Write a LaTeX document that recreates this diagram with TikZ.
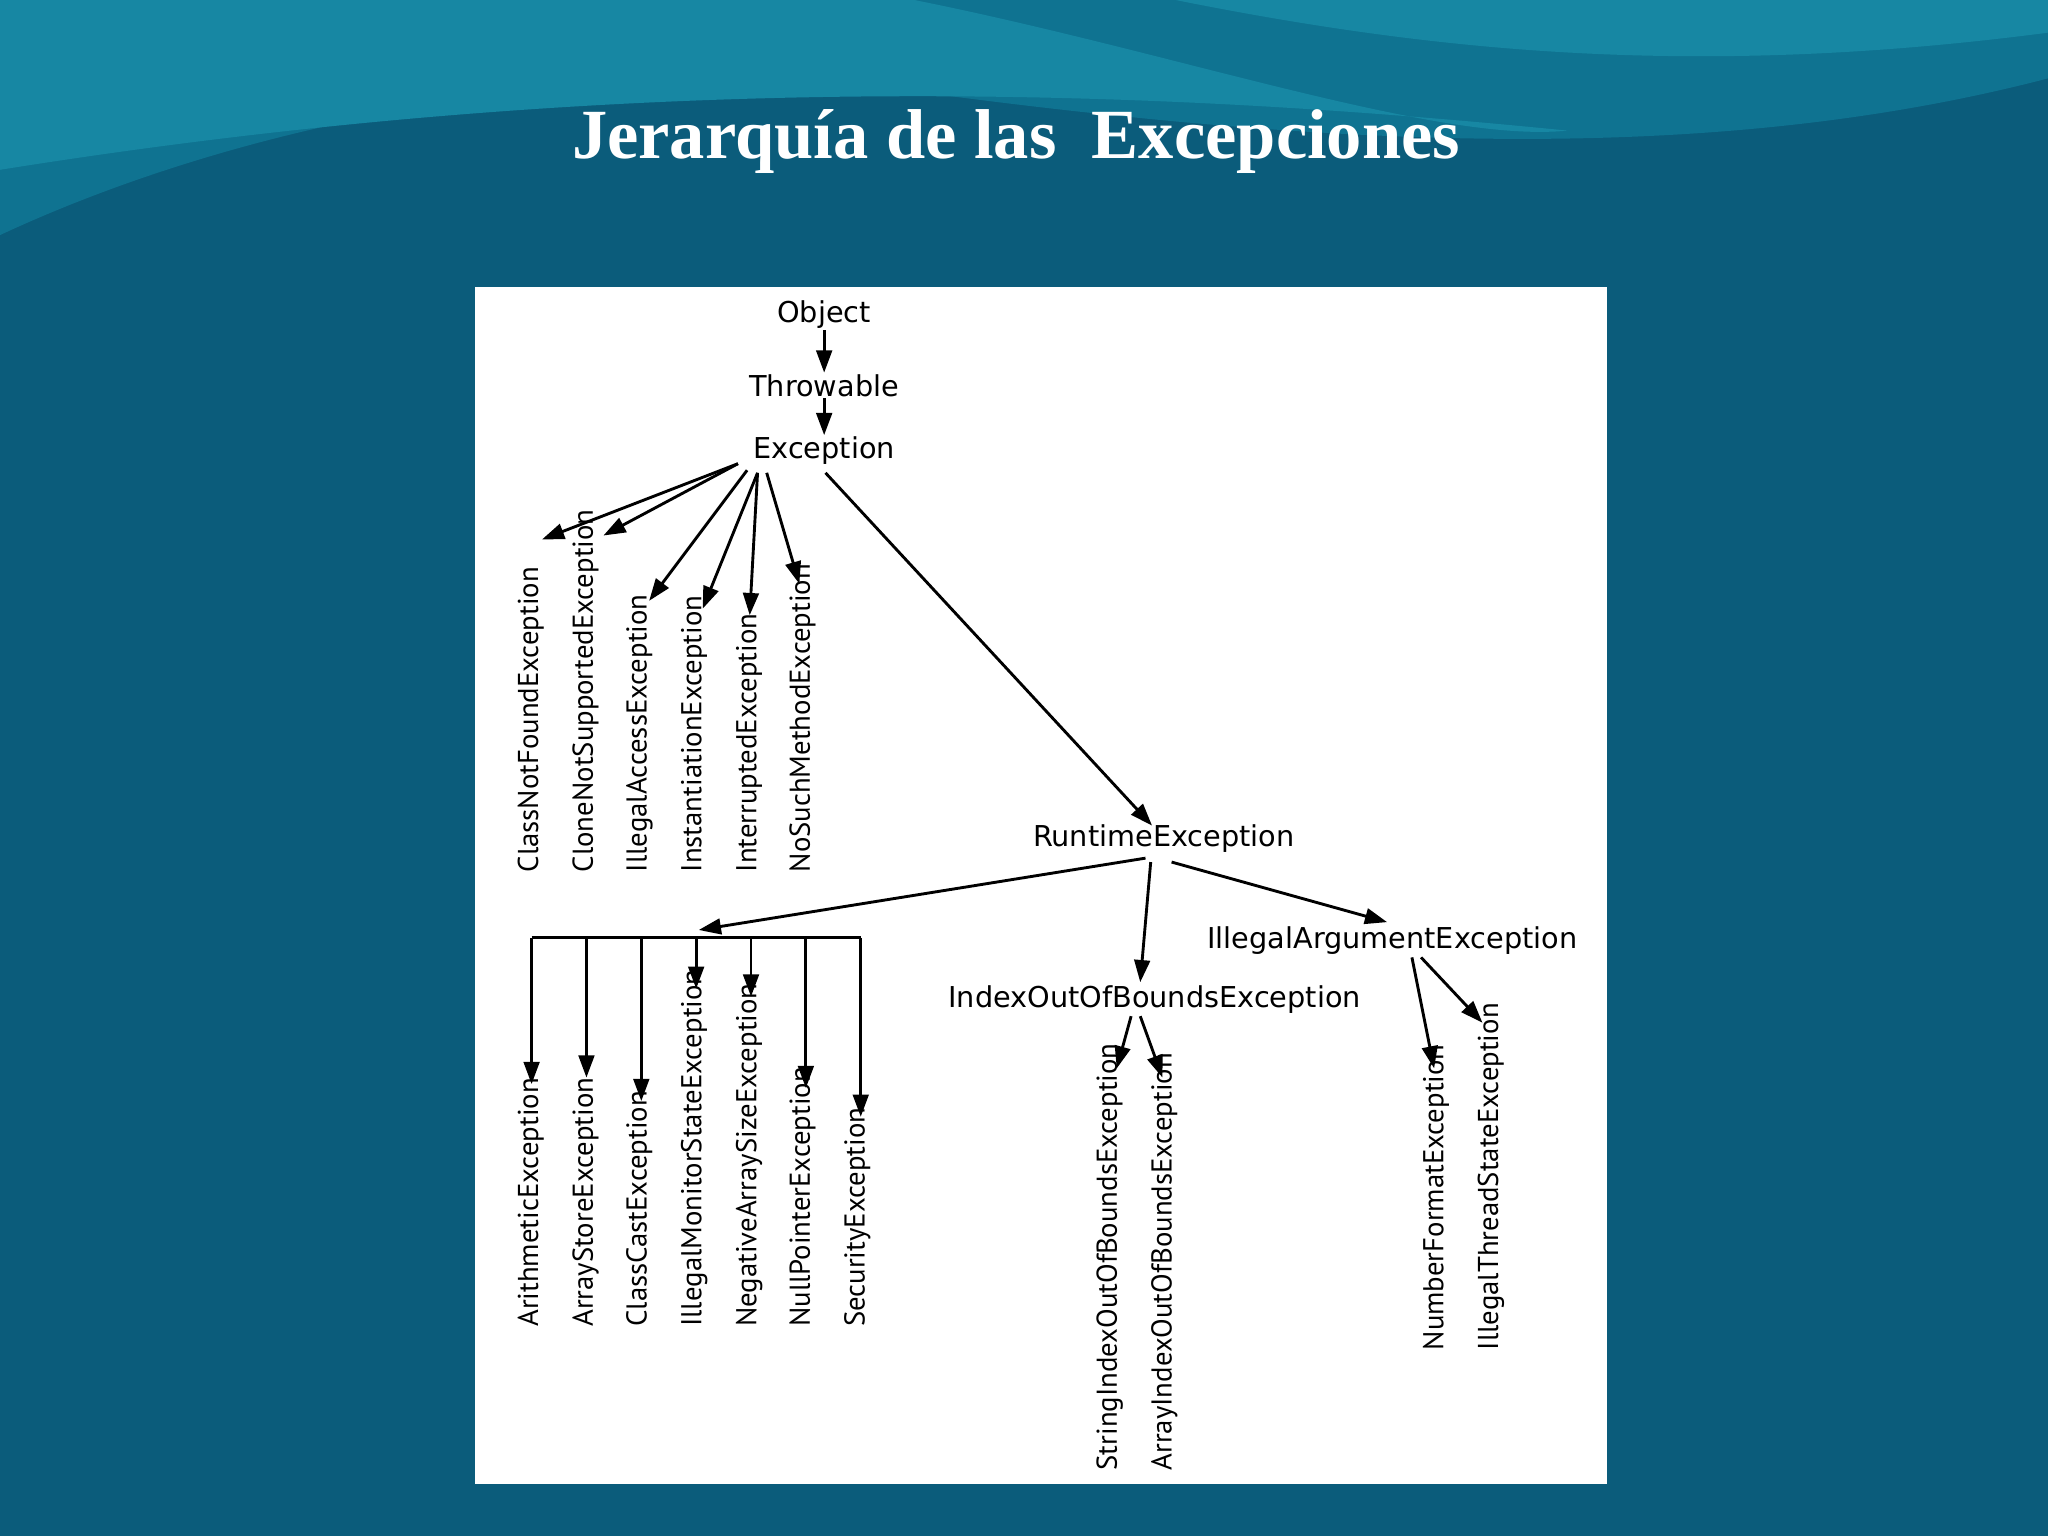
\documentclass[tikz,border=0pt]{standalone}
\usepackage{fontspec}
\setmainfont{Liberation Serif}
\newfontfamily\dfont{DejaVu Sans}
\newfontfamily\nfont{PT Sans}
\usetikzlibrary{arrows.meta}
\definecolor{bg}{HTML}{0B5C7B}
\definecolor{wave}{HTML}{1787A3}
\definecolor{wave2}{HTML}{0F7391}
\begin{document}
\begin{tikzpicture}[x=1pt,y=-1pt,
  lab/.style={font=\dfont\fontsize{22}{24}\selectfont,inner sep=1pt},
  vlab/.style={font=\nfont\fontsize{22}{24}\selectfont,rotate=90,anchor=base west,inner sep=0pt},
  arr/.style={draw,line width=2.2pt,-{Triangle[length=17pt,width=12pt]}},
  ln/.style={draw,line width=2.2pt}]
\useasboundingbox (0,0) rectangle (1568,1176);
\fill[bg] (0,0) rectangle (1568,1176);
\fill[wave2] (0,0) -- (1568,0) -- (1568,60) .. controls (1300,130) and (1000,110) .. (700,70) .. controls (400,40) and (150,110) .. (0,180) -- cycle;
\fill[wave] (0,0) -- (700,0) .. controls (900,40) and (1100,110) .. (1200,100) .. controls (900,70) and (500,50) .. (0,130) -- cycle;
\fill[wave] (900,0) -- (1568,0) -- (1568,25) .. controls (1300,60) and (1100,40) .. (900,0) -- cycle;
\node[text=white,font=\bfseries\fontsize{54}{60}\selectfont] (title) at (778,108) {Jerarquía de las\ \ Excepciones};
\fill[white] (364,220) rectangle (1230,1136);
% top chain
\node[lab] (obj) at (631,241) {Object};
\node[lab] (thr) at (631,295) {Throwable};
\node[lab] (exc) at (631,345) {Exception};
\draw[arr] (obj.south) -- (thr.north);
\draw[arr] (thr.south) -- (exc.north);
% checked exceptions
\foreach \n/\x/\t in {c1/412/ClassNotFoundException,c2/454/CloneNotSupportedException,c3/495/IllegalAccessException,c4/537/InstantiationException,c5/579/InterruptedException,c6/620/NoSuchMethodException}
  \node[vlab] (\n) at (\x,668) {\t};
\coordinate (e0) at (565,355);
\coordinate (e1) at (572,360);
\coordinate (e2) at (580,362);
\coordinate (e3) at (587,362);
\draw[arr] (e0) -- (415,413);
\draw[arr] (e0) -- (462,410);
\draw[arr] (e1) -- (497,460);
\draw[arr] (e2) -- (538,466);
\draw[arr] (e2) -- (574,471);
\draw[arr] (e3) -- (612,447);
% runtime
\node[lab] (rt) at (891,642) {RuntimeException};
\draw[arr] (632,362) -- (882,632);
\coordinate (bar) at (535,712);
\draw[arr] (877,657) -- (bar);
\draw[ln] (407,718) -- (659,718);
\foreach \x/\y in {407/830,449/825,491/843,533/757,575/763,617/833,659/855}
  \draw[arr] (\x,718) -- (\x,\y);
\foreach \n/\x/\t in {r1/412/ArithmeticException,r2/454/ArrayStoreException,r3/495/ClassCastException,r4/537/IllegalMonitorStateException,r5/579/NegativeArraySizeException,r6/620/NullPointerException,r7/662/SecurityException}
  \node[vlab] (\n) at (\x,1016) {\t};
\node[lab] (ia) at (1066,720) {IllegalArgumentException};
\node[lab] (io) at (884,765) {IndexOutOfBoundsException};
\draw[arr] (881,660) -- (873,752);
\draw[arr] (897,660) -- (1062,706);
\draw[arr] (866,778) -- (855,818);
\draw[arr] (873,778) -- (890,825);
\node[vlab] (s1) at (855,1126) {StringIndexOutOfBoundsException};
\node[vlab] (s2) at (897,1126) {ArrayIndexOutOfBoundsException};
\draw[arr] (1081,733) -- (1098,818);
\draw[arr] (1088,733) -- (1135,783);
\node[vlab] (n1) at (1105,1034) {NumberFormatException};
\node[vlab] (n2) at (1147,1034) {IllegalThreadStateException};
\end{tikzpicture}
\end{document}
